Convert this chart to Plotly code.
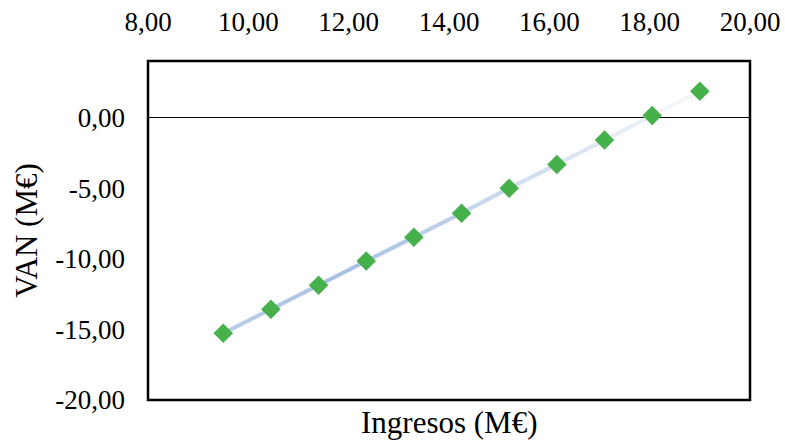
import plotly.graph_objects as go

# Ingresos (M€) y VAN (M€) de cada escenario
ingresos = [9.50, 10.45, 11.40, 12.35, 13.30, 14.25, 15.20, 16.15, 17.10, 18.05, 19.00]
van = [-15.27, -13.57, -11.87, -10.16, -8.47, -6.77, -5.00, -3.32, -1.60, 0.14, 1.85]

x_ticks = [8, 10, 12, 14, 16, 18, 20]
y_ticks = [0, -5, -10, -15, -20]


def fmt(v):
    return f"{v:.2f}".replace(".", ",")


def mix(c1, c2, t):
    return "#%02x%02x%02x" % tuple(int(round(a + (b - a) * t)) for a, b in zip(c1, c2))


fig = go.Figure()

# línea con degradado: azul acero que se aclara hacia la derecha
dark = (168, 192, 225)
light = (242, 246, 251)
n = len(ingresos) - 1
for i in range(n):
    t = max(0.0, (i - 2) / (n - 3))
    col = mix(dark, light, t) if i >= 2 else mix((184, 204, 232), dark, i / 2)
    fig.add_trace(go.Scatter(
        x=ingresos[i:i + 2], y=van[i:i + 2], mode="lines",
        line=dict(color=col, width=4), showlegend=False, hoverinfo="skip"))

fig.add_trace(go.Scatter(
    x=ingresos, y=van, mode="markers",
    marker=dict(symbol="diamond", size=15, color="#46b04a"),
    showlegend=False))

font = "Liberation Serif, Times New Roman, serif"
fig.update_layout(
    width=785, height=441,
    margin=dict(l=148, r=35, t=61, b=41),
    paper_bgcolor="white", plot_bgcolor="white",
    font=dict(family=font, color="black"),
    xaxis=dict(
        range=[8, 20], side="top", tickvals=x_ticks,
        ticktext=[fmt(v) for v in x_ticks], tickfont=dict(size=27),
        showgrid=False, zeroline=False, showline=False, ticks="",
        ticklabelstandoff=24, automargin=False,
        title=None,
    ),
    yaxis=dict(
        range=[-20, 4], tickvals=y_ticks,
        ticktext=[fmt(v) for v in y_ticks], tickfont=dict(size=27),
        showgrid=False, zeroline=False, showline=False, ticks="",
        ticklabelstandoff=22, automargin=False,
        title=dict(text="VAN (M€)", font=dict(size=31), standoff=8),
    ),
    shapes=[
        dict(type="line", xref="paper", yref="y", x0=0, x1=1, y0=0, y1=0,
             line=dict(color="black", width=1.2), layer="below"),
        dict(type="rect", xref="paper", yref="paper", x0=0, x1=1, y0=0, y1=1,
             line=dict(color="black", width=2.5)),
    ],
    annotations=[
        dict(text="Ingresos (M€)", xref="paper", yref="paper", x=0.5, y=0,
             yshift=-3, xanchor="center", yanchor="top", showarrow=False,
             font=dict(size=31)),
    ],
)

fig.write_html("out.html")
